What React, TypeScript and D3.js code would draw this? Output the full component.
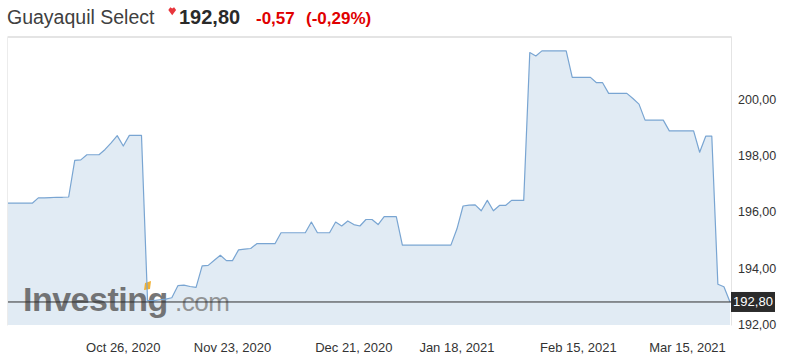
import React from "react";
import * as d3 from "d3";

const title = "Guayaquil Select";
const lastPrice = 192.8;
const change = "-0,57";
const changePct = "(-0,29%)";

// one value per trading session (index 0..119)
const values: number[] = [
  196.31, 196.31, 196.31, 196.31, 196.31,
  196.5, 196.5, 196.51, 196.52, 196.52, 196.53,
  197.83, 197.85,
  198.03, 198.03, 198.03,
  198.22, 198.45, 198.71, 198.34,
  198.72, 198.72, 198.72,
  192.85, 192.85, 192.88, 192.9, 192.95,
  193.38, 193.4, 193.35, 193.32,
  194.08, 194.1, 194.28, 194.46, 194.27, 194.27, 194.65, 194.68, 194.7,
  194.87, 194.87, 194.87, 194.87,
  195.26, 195.26, 195.26, 195.26, 195.26,
  195.64,
  195.26, 195.26, 195.26,
  195.64, 195.5, 195.68, 195.55, 195.5, 195.73, 195.73, 195.55,
  195.83, 195.83, 195.83,
  194.82, 194.82, 194.82, 194.82, 194.82, 194.82, 194.82, 194.82, 194.82,
  195.4, 196.21, 196.24, 196.25, 196.04, 196.41, 196.04, 196.23, 196.23,
  196.41, 196.41, 196.41,
  201.66, 201.54,
  201.72, 201.72, 201.72, 201.72, 201.72,
  200.78, 200.78, 200.78, 200.78,
  200.59, 200.59,
  200.21, 200.21, 200.21, 200.21,
  200.03, 199.83,
  199.26, 199.26, 199.26, 199.26,
  198.88, 198.88, 198.88, 198.88, 198.88,
  198.12,
  198.69, 198.69,
  193.43, 193.34, 192.8,
];

const xTickLabels = ["Oct 26, 2020", "Nov 23, 2020", "Dec 21, 2020", "Jan 18, 2021", "Feb 15, 2021", "Mar 15, 2021"];
const xTickIndex = [19, 37, 57, 74, 94, 112];
const yTicks = [192, 194, 196, 198, 200];

const W = 785;
const H = 361;
const plotLeft = 8;
const plotRight = 730;
const plotTop = 37.4;
const plotBottom = 324.5;
const font = "'Liberation Sans', Arial, sans-serif";

const fmt = (v: number) => v.toFixed(2).replace(".", ",");

export default function App() {
  const x = d3.scaleLinear().domain([0, values.length - 1]).range([plotLeft, plotRight]);
  const y = d3.scaleLinear().domain([192, 202.2]).range([plotBottom, plotTop]);

  const line = d3
    .line<number>()
    .x((_, i) => x(i))
    .y((d) => y(d));
  const area = d3
    .area<number>()
    .x((_, i) => x(i))
    .y0(plotBottom + 0.5)
    .y1((d) => y(d));

  const yLast = y(lastPrice);

  return (
    <div style={{ position: "absolute", left: 0, top: 0, width: W, height: H, background: "#fff" }}>
      <svg width={W} height={H} style={{ display: "block" }}>
        {/* header */}
        <text x={7} y={24} fontFamily={font} fontSize={19.5} fill="#404040">
          {title}
        </text>
        <path d="M168.3,10 L170.3,7.3 L172.2,8.6 L174.1,7.3 L176.1,10 L172.2,15.2 Z" fill="#e8363c" />
        <text x={179} y={23.5} fontFamily={font} fontSize={20} fontWeight="bold" fill="#2a2a2a">
          {fmt(lastPrice)}
        </text>
        <text x={256} y={23.5} fontFamily={font} fontSize={17} fontWeight="bold" fill="#e00000">
          {change}
        </text>
        <text x={306} y={23.5} fontFamily={font} fontSize={17} fontWeight="bold" fill="#e00000">
          {changePct}
        </text>

        {/* frame */}
        <line x1={plotLeft} x2={plotRight + 1} y1={plotTop - 0.5} y2={plotTop - 0.5} stroke="#e4e4e4" strokeWidth={2} />
        <line x1={plotLeft - 0.5} x2={plotLeft - 0.5} y1={plotTop - 1} y2={plotBottom + 1} stroke="#ececec" />
        <line x1={plotRight + 1.5} x2={plotRight + 1.5} y1={plotTop - 1} y2={plotBottom + 1} stroke="#e4e4e4" />

        {/* area */}
        <path d={area(values) ?? ""} fill="#e1ebf4" />

        {/* watermark */}
        <g opacity={0.85}>
          <text x={23} y={311} fontFamily={font} fontSize={34} fontWeight="bold" fill="#5f5f5f" letterSpacing={-0.5}>
            Investing
          </text>
          <text x={175} y={311} fontFamily={font} fontSize={26} fill="#858585" letterSpacing={-0.5}>
            .com
          </text>
        </g>
        <path d="M145,283 L151,281 L150,289 L144,290 Z" fill="#f2b133" />

        {/* line */}
        <path d={line(values) ?? ""} fill="none" stroke="#79a5d2" strokeWidth={1.2} strokeLinejoin="round" />

        {/* last price line */}
        <line x1={plotLeft} x2={plotRight + 2} y1={yLast} y2={yLast} stroke="#2f2f2f" strokeWidth={1} />
        <rect x={plotRight + 1} y={yLast - 10} width={44} height={20} fill="#2b2b2b" />
        <text x={plotRight + 23} y={yLast + 4.5} textAnchor="middle" fontFamily={font} fontSize={13} fill="#fff">
          {fmt(lastPrice)}
        </text>

        {/* y axis labels */}
        {yTicks.map((t) => (
          <text key={t} x={738} y={y(t) + 4.5} fontFamily={font} fontSize={12.5} fill="#333">
            {fmt(t)}
          </text>
        ))}

        {/* x axis labels */}
        {xTickIndex.map((idx, i) => (
          <text key={idx} x={x(idx)} y={352} textAnchor="middle" fontFamily={font} fontSize={13} fill="#333">
            {xTickLabels[i]}
          </text>
        ))}
      </svg>
    </div>
  );
}
